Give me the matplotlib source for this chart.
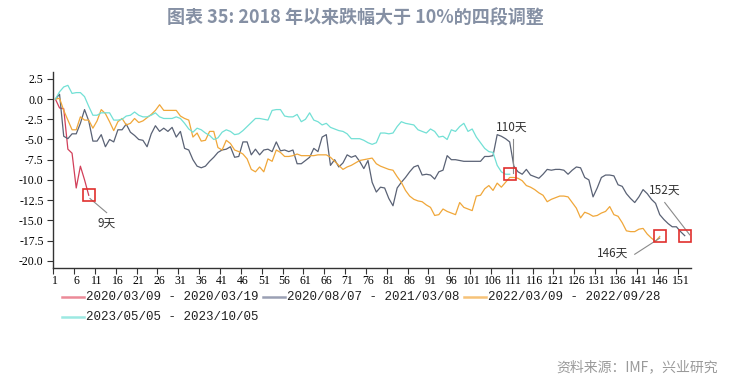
import numpy as np
import matplotlib
matplotlib.use("Agg")
import matplotlib.pyplot as plt
from matplotlib.lines import Line2D

plt.rcParams['font.family'] = ['Noto Sans CJK SC', 'DejaVu Sans']

# -----------------------------
# data (% change from day 1)
# -----------------------------
labels = ["2020/03/09 - 2020/03/19", "2020/08/07 - 2021/03/08",
          "2022/03/09 - 2022/09/28", "2023/05/05 - 2023/10/05"]

red = [0, -1.1, -1.2, -6.2, -6.7, -11.0, -8.3, -10.0, -11.9]

gray = [0, 0.6, -4.6, -4.9, -4.3, -4.3, -3.0, -1.3, -2.7, -5.2,
        -5.2, -4.4, -5.9, -5.0, -5.3, -3.8, -3.8, -3.1, -4.1, -4.5,
        -5.0, -5.1, -5.9, -4.3, -3.3, -4.0, -3.6, -4.0, -3.5, -4.7,
        -4.0, -6.1, -6.3, -7.5, -8.3, -8.5, -8.3, -7.7, -7.2, -6.6,
        -6.3, -6.2, -5.9, -7.2, -7.1, -5.3, -5.3, -6.9, -6.2, -6.9,
        -6.3, -6.2, -6.5, -5.3, -6.4, -6.3, -6.5, -6.3, -8.0, -8.0,
        -7.6, -7.2, -6.1, -6.5, -4.7, -4.4, -8.2, -7.5, -8.4, -7.9,
        -6.9, -7.2, -7.0, -7.7, -8.6, -7.6, -10.3, -11.5, -10.9, -11.0,
        -12.3, -13.2, -11.0, -10.3, -9.7, -9.0, -8.4, -8.2, -9.4, -9.3,
        -9.4, -9.9, -9.0, -8.8, -7.0, -7.5, -7.5, -7.6, -7.7, -7.7,
        -7.7, -7.7, -7.7, -7.1, -7.1, -7.0, -4.4, -4.6, -4.9, -5.3,
        -8.3, -9.0, -9.3, -8.7, -9.4, -9.6, -9.8, -9.3, -8.7, -8.8,
        -8.7, -8.7, -8.8, -9.3, -8.8, -8.4, -8.5, -9.7, -10.0, -12.1,
        -11.0, -9.7, -9.4, -9.4, -9.5, -10.6, -10.8, -11.7, -12.3, -12.8,
        -12.1, -11.2, -11.7, -12.4, -12.9, -14.3, -14.9, -15.4, -15.8, -15.8,
        -16.4, -16.9]

orange = [0, 0.1, -1.4, -2.6, -3.8, -3.8, -2.2, -2.6, -2.6, -3.6,
          -2.7, -1.3, -1.8, -2.8, -3.9, -2.8, -2.4, -3.2, -3.0, -2.4,
          -2.9, -2.7, -2.3, -1.9, -1.4, -0.7, -1.4, -1.4, -1.4, -1.4,
          -2.1, -2.4, -2.6, -4.7, -4.2, -5.2, -5.1, -4.0, -4.0, -6.0,
          -6.3, -5.1, -5.5, -6.3, -6.5, -6.8, -7.4, -8.7, -9.0, -8.4,
          -9.0, -7.4, -7.7, -6.3, -6.6, -7.1, -7.1, -7.0, -6.8, -7.0,
          -7.0, -7.0, -7.0, -6.9, -6.9, -6.9, -7.2, -7.7, -8.2, -8.7,
          -8.4, -8.2, -7.9, -7.6, -7.5, -7.4, -7.3, -8.0, -8.3, -8.5,
          -8.7, -8.8, -9.6, -10.3, -11.3, -12.0, -12.4, -12.6, -12.7, -13.1,
          -13.4, -14.4, -14.3, -13.6, -13.9, -14.1, -14.3, -12.8, -13.4, -13.6,
          -13.8, -12.0, -11.9, -11.1, -10.7, -11.3, -10.4, -10.9, -10.3, -9.7,
          -9.7, -9.8, -10.1, -10.7, -10.9, -11.2, -11.6, -11.9, -12.7, -12.4,
          -12.2, -12.0, -12.0, -12.1, -12.8, -13.5, -14.7, -14.0, -14.2, -14.5,
          -14.4, -14.1, -13.9, -13.3, -14.3, -14.5, -15.3, -16.3, -16.4, -16.4,
          -16.1, -16.0, -16.7, -17.2, -17.6, -17.0]

cyan = [0, 0.9, 1.5, 1.7, 0.7, 0.8, 0.8, 0.3, -0.9, -2.0,
        -2.0, -1.7, -1.7, -1.7, -2.6, -2.6, -2.5, -2.1, -2.0, -1.6,
        -2.0, -2.2, -2.2, -2.0, -1.7, -2.2, -2.4, -2.4, -2.4, -2.2,
        -2.4, -3.0, -3.7, -4.1, -3.6, -3.8, -4.2, -4.5, -5.0, -4.8,
        -4.1, -3.8, -4.0, -4.4, -4.3, -3.9, -3.4, -2.9, -2.4, -2.4,
        -2.5, -2.6, -1.4, -1.3, -1.3, -2.1, -2.2, -2.2, -1.9, -2.8,
        -2.5, -1.7, -2.6, -2.8, -3.2, -3.0, -3.5, -3.7, -3.9, -4.0,
        -4.3, -4.9, -4.9, -4.9, -5.1, -5.4, -5.6, -5.4, -4.2, -4.2,
        -4.3, -4.2, -3.4, -2.8, -3.0, -3.1, -3.2, -3.8, -4.0, -4.2,
        -3.7, -4.0, -4.7, -4.6, -5.0, -3.8, -4.0, -3.4, -3.0, -4.0,
        -3.7, -4.7, -5.4, -6.1, -6.5, -6.6, -8.2, -9.0, -9.3, -9.3]

series = [red, gray, orange, cyan]
colors = ['#d2405a', '#5a6275', '#f0a73a', '#72e0d5']
legend_colors = ['#ec8a98', '#9aa0b4', '#f6c278', '#9ce9e2']

# annotation text + where it sits (day, value) + leader line ends
notes = [
    ("9天", (13.2, -15.4), [(9.3, 13.3), (-12.3, -14.05)]),
    ("110天", (110.5, -3.5), [(110.7, 110.7), (-4.9, -9.2)]),
    ("146天", (134.6, -19.1), [(140.0, 146.0), (-19.2, -17.2)]),
    ("152天", (147.1, -11.25), [(147.2, 153.2), (-12.8, -16.8)]),
]

# -----------------------------
# figure
# -----------------------------
fig = plt.figure(figsize=(7.31, 3.81), dpi=100)
ax = fig.add_axes([53.3 / 731, 1 - 268 / 381, (691 - 53.3) / 731, (268 - 72) / 381])

for vals, c in zip(series, colors):
    days = np.arange(1, len(vals) + 1)
    ax.plot(days, vals, color=c, lw=0.9, zorder=3)
    # red square on the last day of each drop
    ax.plot(days[-1], vals[-1], marker='s', ms=8.5, mfc='none', mec='#e0302e',
            mew=1.2, zorder=5)

for txt, (tx, ty), (lx, ly) in notes:
    ax.plot(lx, ly, color='#8a8a8a', lw=0.8, zorder=4)
    ax.text(tx, ty, txt, ha='center', va='center', fontsize=8.5, color='#333333')

ax.set_xlim(0.5, 153.5)
ax.set_ylim(-20.9, 3.35)

xt = np.arange(1, 152, 5)
ax.set_xticks(xt)
ax.set_xticklabels([str(v) for v in xt], family='Liberation Serif', fontsize=8.5)
ax.set_xticks(xt - 0.5, minor=True)
ax.tick_params(axis='x', which='major', length=0, pad=5)
ax.tick_params(axis='x', which='minor', length=4, width=0.8, color='#333333')

yt = np.arange(-20, 2.6, 2.5)
ax.set_yticks(yt)
ax.set_yticklabels(['%.1f' % v for v in yt], family='Liberation Serif', fontsize=8.5)
ax.tick_params(axis='y', length=4, width=0.8, color='#333333', pad=3)

for s in ['top', 'right']:
    ax.spines[s].set_visible(False)
for s in ['left', 'bottom']:
    ax.spines[s].set_color('#333333')
    ax.spines[s].set_linewidth(1.0)

# legend, laid out like the original (3 per row)
leg_x = [62, 263, 464]
leg_y = [297, 317]
for i, (lab, c) in enumerate(zip(labels, legend_colors)):
    x0 = leg_x[i % 3] / 731
    y0 = 1 - leg_y[i // 3] / 381
    fig.add_artist(Line2D([x0, x0 + 22 / 731], [y0, y0], color=c, lw=1.8,
                          transform=fig.transFigure))
    fig.text(x0 + 24 / 731, y0, lab, family='Liberation Mono', fontsize=9,
             va='center', ha='left', color='#222222')

fig.text(355 / 731, 1 - 18 / 381, "图表 35: 2018 年以来跌幅大于 10%的四段调整",
         ha='center', va='center', fontsize=13, fontweight='bold', color='#8590a4')
fig.text(718 / 731, 1 - 367 / 381, "资料来源：IMF，兴业研究",
         ha='right', va='center', fontsize=10, color='#9a9a9a')

fig.savefig("out.png", dpi=100)
